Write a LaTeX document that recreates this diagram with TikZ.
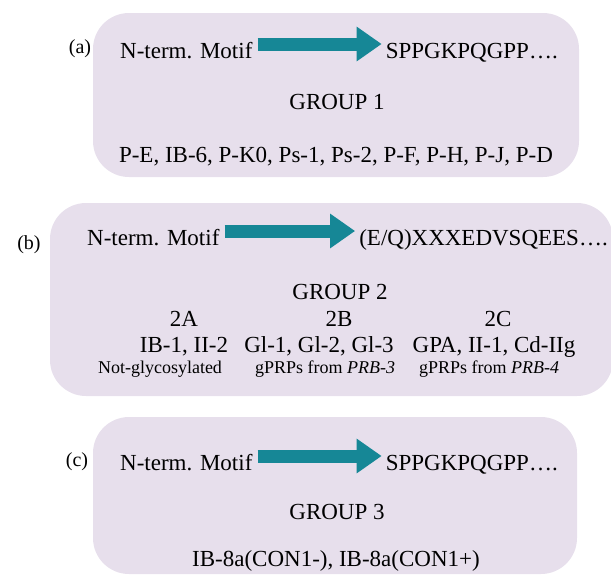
\documentclass[tikz,border=0pt]{standalone}
\usepackage{fontspec}
\setmainfont{Liberation Serif}
\usetikzlibrary{arrows.meta,positioning}
\definecolor{boxfill}{RGB}{231,223,236}
\definecolor{arrowteal}{RGB}{22,135,150}

\begin{document}
\begin{tikzpicture}[x=1pt,y=-1pt,
	groupbox/.style={fill=boxfill, rounded corners=36pt},
	txt/.style={inner sep=0pt, font=\fontsize{23}{27}\selectfont},
	small/.style={inner sep=0pt, font=\fontsize{18}{21}\selectfont},
	panel/.style={inner sep=0pt, font=\fontsize{20}{24}\selectfont},
	seqarrow/.style={arrowteal, line width=13pt, -{Triangle[length=25pt,width=33pt]}, shorten <=5pt, shorten >=4pt}]
		\useasboundingbox (0,0) rectangle (611,574);

		\fill[groupbox] (93,13) rectangle (579,177);
		\fill[groupbox] (50,203) rectangle (613,396);
		\fill[groupbox] (93,417) rectangle (577,574);

		\node[panel, anchor=base] (labA) at (80,53) {(a)};
		\node[txt, anchor=base west] (motifA) at (120,58) {N-term. Motif};
		\node[txt, anchor=base east] (seqA) at (558,58) {SPPGKPQGPP\ldots.};
		\draw[seqarrow] ([yshift=14pt]motifA.base east) -- ([yshift=14pt]motifA.base east -| seqA.west);
		\node[txt, anchor=base] (groupA) at (337,109) {GROUP 1};
		\node[txt, anchor=base] (membersA) at (336,162) {P-E, IB-6, P-K0, Ps-1, Ps-2, P-F, P-H, P-J, P-D};

		\node[panel, anchor=base] (labB) at (29,249) {(b)};
		\node[txt, anchor=base west] (motifB) at (87,245) {N-term. Motif};
		\node[txt, anchor=base east] (seqB) at (608,245) {(E/Q)XXXEDVSQEES\ldots.};
		\draw[seqarrow] ([yshift=14pt]motifB.base east) -- ([yshift=14pt]motifB.base east -| seqB.west);
		\node[txt, anchor=base] (groupB) at (340,299) {GROUP 2};
		\node[txt, anchor=base] (subA) at (184,326) {2A};
		\node[txt, anchor=base] (subB) at (339,326) {2B};
		\node[txt, anchor=base] (subC) at (498,326) {2C};
		\node[txt, anchor=base] (membersBA) at (184,352) {IB-1, II-2};
		\node[txt, anchor=base] (membersBB) at (319,352) {Gl-1, Gl-2, Gl-3};
		\node[txt, anchor=base] (membersBC) at (494,352) {GPA, II-1, Cd-IIg};
		\node[small, anchor=base] (noteA) at (160,373) {Not-glycosylated};
		\node[small, anchor=base] (noteB) at (325,373) {gPRPs from \textit{PRB-3}};
		\node[small, anchor=base] (noteC) at (489,373) {gPRPs from \textit{PRB-4}};

		\node[panel, anchor=base] (labC) at (77,466) {(c)};
		\node[txt, anchor=base west] (motifC) at (120,470) {N-term. Motif};
		\node[txt, anchor=base east] (seqC) at (558,470) {SPPGKPQGPP\ldots.};
		\draw[seqarrow] ([yshift=14pt]motifC.base east) -- ([yshift=14pt]motifC.base east -| seqC.west);
		\node[txt, anchor=base] (groupC) at (337,519) {GROUP 3};
		\node[txt, anchor=base] (membersC) at (336,566) {IB-8a(CON1-), IB-8a(CON1+)};
	\end{tikzpicture}
\end{document}
